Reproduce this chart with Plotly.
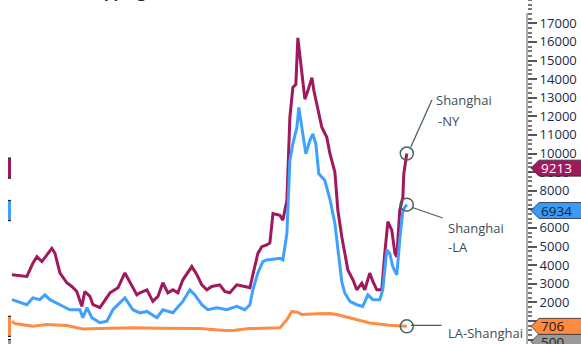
import plotly.graph_objects as go

# ---------------- data ----------------
ny_dates = ["2014-04-23","2014-07-07","2014-09-11","2014-11-06","2014-12-14","2015-01-30","2015-03-17","2015-05-03","2015-06-01","2015-07-18",
            "2015-09-21","2015-11-07","2015-12-24","2016-02-09","2016-03-08","2016-04-25","2016-05-24","2016-07-28","2016-10-31","2017-01-14",
            "2017-03-20","2017-05-25","2017-07-11","2017-08-08","2017-10-13","2017-12-08","2018-01-25","2018-03-12","2018-04-28","2018-06-14",
            "2018-07-31","2018-09-16","2018-11-02","2018-12-09","2019-01-26","2019-03-13","2019-04-29","2019-06-15","2019-08-29","2019-10-15",
            "2019-12-01","2020-02-05","2020-04-20","2020-06-07","2020-07-05","2020-08-21","2020-09-27","2020-11-13","2020-12-12","2021-01-10",
            "2021-03-16","2021-04-13","2021-05-21","2021-06-18","2021-07-16","2021-08-13","2021-09-01","2021-10-08","2021-11-06","2021-12-04",
            "2022-01-11","2022-01-30","2022-03-08","2022-04-14","2022-05-31","2022-06-29","2022-08-15","2022-09-12","2022-10-19","2022-11-16",
            "2022-12-15","2023-02-01","2023-03-09","2023-04-25","2023-05-23","2023-07-09","2023-08-07","2023-09-13","2023-10-30","2023-11-27",
            "2023-12-26","2024-02-01","2024-03-01","2024-03-19","2024-04-16","2024-05-15","2024-05-24","2024-06-12","2024-06-21"]
ny_values = [3476,3420,3390,4100,4450,4190,4550,4900,4650,3580,
             3050,2850,2580,1780,2580,2320,1870,1710,2510,2780,
             3580,2850,2400,2510,2670,2050,2320,3050,2510,2670,
             2510,3210,3650,3920,3480,2940,2670,2850,2940,2580,
             2510,2940,2850,2780,3480,4630,4990,5080,5190,6770,
             6680,6420,7490,11940,13550,13720,16220,14440,12920,13370,
             14080,13370,12300,11410,10870,10000,9000,6950,5520,4630,
             3740,3210,2670,3030,2670,3570,3120,2670,2670,4630,
             6330,5880,4630,4450,6950,7660,8910,9650,10000]

la_dates = ["2014-04-23","2014-09-11","2014-11-06","2015-01-11","2015-02-27","2015-04-15","2015-07-18","2015-10-19","2016-01-22","2016-02-19",
            "2016-03-28","2016-05-14","2016-07-28","2016-10-02","2016-11-27","2017-01-14","2017-03-20","2017-06-03","2017-08-08","2017-10-13",
            "2018-01-15","2018-03-12","2018-06-14","2018-09-16","2018-11-21","2019-01-07","2019-03-13","2019-05-09","2019-08-01","2019-11-03",
            "2020-02-05","2020-04-20","2020-06-07","2020-07-05","2020-08-21","2020-10-07","2020-11-13","2021-03-16","2021-04-13","2021-05-21",
            "2021-06-18","2021-07-16","2021-08-23","2021-09-10","2021-10-18","2021-11-15","2021-12-23","2022-01-20","2022-02-17","2022-03-17",
            "2022-05-12","2022-06-29","2022-08-15","2022-09-12","2022-10-19","2022-11-16","2023-01-03","2023-03-09","2023-05-04","2023-06-21",
            "2023-08-07","2023-10-11","2023-11-08","2023-12-16","2024-01-13","2024-02-10","2024-03-19","2024-04-16","2024-05-15","2024-06-21"]
la_values = [2140,1870,2240,2140,2400,2140,1870,1600,1600,1170,
             1710,1170,900,980,1600,1870,2240,1600,1430,1510,
             1170,1600,1440,2050,2670,2400,1870,1600,1710,1600,
             1780,1600,1870,2670,3580,4190,4280,4370,4280,5700,
             9630,10520,11410,12480,11050,9980,10700,11050,10520,8910,
             8560,7550,6240,4720,3100,2500,2050,1870,1780,2400,
             2140,2140,2670,4810,4630,3920,3480,5350,6950,7250]

lash_dates = ["2014-04-23","2014-05-21","2014-11-06","2015-03-17","2015-09-21","2016-02-19","2016-07-28","2017-06-03","2018-02-12","2019-02-23",
              "2019-10-15","2020-01-17","2020-06-07","2021-03-16","2021-05-21","2021-07-07","2021-09-01","2021-10-08","2022-02-27","2022-06-29",
              "2022-09-02","2023-01-03","2023-03-09","2023-07-09","2024-01-13","2024-06-21"]
lash_values = [980,855,710,800,750,570,590,625,600,590,
               480,500,590,625,1070,1510,1460,1340,1390,1400,
               1340,1160,1100,890,770,706]

tag_values = [9213, 6934, 706]
tag_texts = ["9213", "6934", "706"]
hidden_tag_value = -120
hidden_tag_text = "500"
y_ticks = list(range(0, 18000, 1000))
y_ticktext = ["" if v < 2000 else str(v) for v in y_ticks]

# ---------------- styling ----------------
NY_C = "#A0195C"
LA_C = "#3FA0FF"
LASH_C = "#FF8C45"
LABEL_C = "#3c4e57"
CIRCLE_C = "#4a6262"
TICK_C = "#1a2a48"
PLOT_W = 527.0  # px width of plotting area
FONT = "Open Sans"

def px(xp):
    return xp / PLOT_W

fig = go.Figure()
for d, v, c in [(ny_dates, ny_values, NY_C), (la_dates, la_values, LA_C), (lash_dates, lash_values, LASH_C)]:
    fig.add_trace(go.Scatter(x=d, y=v, mode="lines", line=dict(color=c, width=3), hoverinfo="skip"))

fig.add_trace(go.Scatter(
    x=[ny_dates[-1], la_dates[-1], lash_dates[-1]],
    y=[ny_values[-1], la_values[-1], lash_values[-1]],
    mode="markers",
    marker=dict(symbol="circle-open", size=13, color=CIRCLE_C, line=dict(width=1.5)),
    hoverinfo="skip"))

shapes = []
annotations = []

# axis line
shapes.append(dict(type="line", xref="paper", yref="y", x0=1, x1=1, y0=-400, y1=17550,
                   line=dict(color="#777777", width=1.2), layer="above"))

# value tags on the right
half = 430
def tag(v, fill, txt, txtcol):
    x0, xm, x1 = px(531), px(539), px(595)
    shapes.append(dict(type="path", xref="paper", yref="y", layer="above",
                       path=f"M {x0},{v} L {xm},{v+half} L {x1},{v+half} L {x1},{v-half} L {xm},{v-half} Z",
                       fillcolor=fill, line=dict(color="#2b2b3b", width=0.8)))
    annotations.append(dict(xref="paper", yref="y", x=px(539), y=v, xanchor="left", yanchor="middle",
                            text=txt, showarrow=False, font=dict(family=FONT, size=13.5, color=txtcol)))

tag(hidden_tag_value, "#9a9a9a", hidden_tag_text, "#222222")
tag(tag_values[2], "#FF8A40", tag_texts[2], "#2a1a0a")
tag(tag_values[1], "#3A9BF5", tag_texts[1], "#0d1f3c")
tag(tag_values[0], NY_C, tag_texts[0], "#ffffff")

# small left-hand markers
for v, c in [(tag_values[0], NY_C), (tag_values[1], LA_C), (tag_values[2], LASH_C), (hidden_tag_value - 420, "#9a9a9a")]:
    shapes.append(dict(type="rect", xref="paper", yref="y", x0=px(8), x1=px(11), y0=v - 540, y1=v + 540,
                       fillcolor=c, line=dict(width=0), layer="above"))
    for e in (v - 540, v + 540):
        shapes.append(dict(type="line", xref="paper", yref="y", x0=px(8), x1=px(11), y0=e, y1=e,
                           line=dict(color="#222222", width=1.2), layer="above"))

# connector lines
for x0, y0, x1, y1 in [("2024-07-29", 10349, "2025-02-12", 12876),
                       ("2024-08-12", 7097, "2025-05-26", 6532),
                       ("2024-07-29", 760, "2025-05-14", 760)]:
    shapes.append(dict(type="line", xref="x", yref="y", x0=x0, y0=y0, x1=x1, y1=y1,
                       line=dict(color=CIRCLE_C, width=1.3)))

# series labels
for x, y, t in [("2025-03-03", 12876, "Shanghai"), ("2025-03-22", 11747, "-NY"),
                ("2025-06-23", 5995, "Shanghai"), ("2025-06-23", 4973, "-LA"),
                ("2025-06-20", 350, "LA-Shanghai")]:
    annotations.append(dict(xref="x", yref="y", x=x, y=y, xanchor="left", yanchor="middle", text=t,
                            showarrow=False, font=dict(family=FONT, size=13, color=LABEL_C)))

# cut-off title at the top
annotations.append(dict(xref="paper", yref="paper", x=px(1), y=1, xanchor="left", yanchor="bottom", yshift=-4,
                        text="<b>Container Shipping Rates</b>", showarrow=False,
                        font=dict(family=FONT, size=15, color="#222222")))

fig.update_layout(
    width=581, height=344,
    margin=dict(l=0, r=54, t=0, b=0),
    paper_bgcolor="white", plot_bgcolor="white",
    showlegend=False, hovermode=False,
    shapes=shapes, annotations=annotations,
    xaxis=dict(type="date", range=["2014-01-01", "2027-07-26"], showticklabels=False, showgrid=False,
               zeroline=False, showline=False, ticks=""),
    yaxis=dict(side="right", range=[-242, 18253], tickmode="array", tickvals=y_ticks, ticktext=y_ticktext,
               ticks="outside", ticklen=9, tickwidth=1.5, tickcolor="#555555",
               showgrid=False, zeroline=False, showline=False,
               tickfont=dict(family=FONT, size=13, color=TICK_C),
               minor=dict(dtick=250, tick0=0, ticks="outside", ticklen=4, tickcolor="#777777", showgrid=False)),
)

fig.write_html("out.html", config={"displayModeBar": False},
               post_script="document.documentElement.style.margin='0';document.body.style.margin='0';"
                           "document.body.style.overflow='hidden';")
